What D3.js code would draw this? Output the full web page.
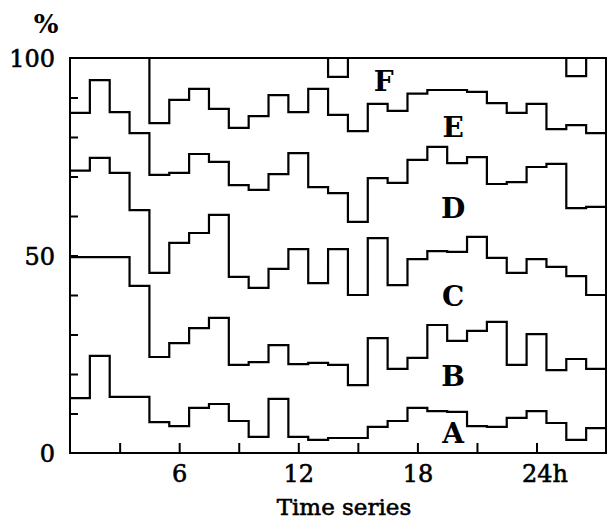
<!DOCTYPE html>
<html>
<head>
<meta charset="utf-8">
<script src="https://cdn.jsdelivr.net/npm/d3@7"></script>
<style>
  body { margin: 0; background: #fff; }
  text { font-family: "DejaVu Serif", "Liberation Serif", serif; fill: #000; }
</style>
</head>
<body>
<div id="chart"></div>
<script>
// hourly samples, boundaries of the stacked shares (cumulative %)
var hours = [1,2,3,4,5,6,7,8,9,10,11,12,13,14,15,16,17,18,19,20,21,22,23,24,25,26,27];

var topF = [100,100,100,100,100,100,100,100,100,100,100,100,100,95.2,100,100,100,100,100,100,100,100,100,100,100,95.4,100];
var lineEF = [100,100,100,100,83.5,89.4,92.2,87.1,82.3,85.3,90.6,86.3,92.2,85.6,81.5,88.4,86.6,91.0,91.9,91.9,91.4,88.6,86.1,88.4,82.0,83.0,81.0];
var lineDE = [86.1,94.4,86.3,81.0,70.4,70.9,75.7,73.7,67.8,66.6,70.6,75.9,67.3,65.8,58.5,69.6,68.4,74.2,77.5,73.4,74.9,68.1,68.6,72.4,73.2,62.0,62.3];
var lineCD = [71.5,74.7,70.9,61.5,45.6,53.2,55.7,60.3,44.6,41.8,46.6,51.6,43.0,51.6,40.0,54.4,42.5,49.1,51.1,50.9,54.7,49.4,45.6,49.1,47.1,44.8,40.0];
var lineBC = [49.6,49.6,49.6,42.3,24.3,27.8,31.6,34.2,22.3,23.0,27.3,22.5,22.8,22.3,17.2,29.1,21.3,24.1,32.4,28.4,30.9,33.2,22.3,30.1,21.0,23.8,21.3];
var lineAB = [13.9,24.6,14.2,14.2,7.8,6.8,11.4,12.4,8.1,4.1,13.7,4.1,3.3,3.8,3.8,6.6,8.1,11.4,10.6,10.4,6.8,6.6,8.9,10.6,7.6,3.3,6.3];

var bands = ["A","B","C","D","E","F"];
var xTickLabels = [6,12,18,24];
var yTickLabels = [0,50,100];

var margin = {top: 58, right: 2, bottom: 69, left: 70},
  width = 608 - margin.left - margin.right,
  height = 522 - margin.top - margin.bottom;

var svg = d3.select('#chart')
  .append('svg')
    .attr('width', 608)
    .attr('height', 522)
  .append('g')
    .attr('transform', 'translate(' + margin.left + ',' + margin.top + ')');

var x = d3.scaleLinear().domain([0.5, 27.5]).range([0, width]);
var y = d3.scaleLinear().domain([0, 100]).range([height, 0]);

var stepLine = d3.line()
  .x(function(d) { return x(d[0]); })
  .y(function(d) { return y(d[1]); })
  .curve(d3.curveStepAfter);

function pts(vals){
  var p = hours.map(function(h,i){ return [h - 0.5, vals[i]]; });
  p.push([hours[hours.length-1] + 0.5, vals[vals.length-1]]);
  return p;
}

//frame
svg.append('rect')
  .attr('x', 0).attr('y', 0)
  .attr('width', width).attr('height', height)
  .attr('fill', 'none')
  .attr('stroke', '#000')
  .attr('stroke-width', 2);

var series = [topF, lineEF, lineDE, lineCD, lineBC, lineAB];
svg.selectAll('.steps')
  .data(series).enter()
  .append('path')
    .attr('class', 'steps')
    .attr('d', function(d){ return stepLine(pts(d)); })
    .attr('fill', 'none')
    .attr('stroke', '#000')
    .attr('stroke-width', 2.2)
    .attr('stroke-linejoin', 'miter');

//inner minor ticks
var yMinor = svg.append('g')
  .call(d3.axisRight(y).tickValues(d3.range(10, 100, 10)).tickSize(8).tickFormat(''));
var xMinor = svg.append('g')
  .attr('transform', 'translate(0,' + height + ')')
  .call(d3.axisTop(x).tickValues(d3.range(3, 25, 3)).tickSize(10).tickFormat(''));
[yMinor, xMinor].forEach(function(g){
  g.select('.domain').remove();
  g.selectAll('line').attr('stroke', '#000').attr('stroke-width', 2);
});

//labels
var yAxis = svg.append('g')
  .call(d3.axisLeft(y).tickValues(yTickLabels).tickSize(0).tickPadding(15));
yAxis.select('.domain').remove();
yAxis.selectAll('text')
  .attr('font-size', 24)
  .attr('font-family', '"DejaVu Serif", serif')
  .attr('stroke', '#000').attr('stroke-width', 0.6)
  .attr('dy', '0.36em');

var xAxis = svg.append('g')
  .attr('transform', 'translate(0,' + height + ')')
  .call(d3.axisBottom(x).tickValues(xTickLabels).tickSize(0).tickPadding(12)
    .tickFormat(function(d){ return d == 24 ? '24h' : d; }));
xAxis.select('.domain').remove();
xAxis.selectAll('text')
  .attr('font-size', 24)
  .attr('font-family', '"DejaVu Serif", serif')
  .attr('stroke', '#000').attr('stroke-width', 0.6)
  .attr('dx', function(d){ return d == 24 ? 8 : 0; });

svg.append('text')
  .attr('x', -24)
  .attr('y', -25)
  .attr('font-size', 26)
  .attr('text-anchor', 'middle')
  .attr('font-weight', 'bold')
  .text('%');

svg.append('text')
  .attr('x', x(14.3))
  .attr('y', height + 62)
  .attr('font-size', 23)
  .attr('stroke', '#000').attr('stroke-width', 0.6)
  .attr('text-anchor', 'middle')
  .text('Time series');

//band letters, centred between boundaries
var bounds = [null, lineAB, lineBC, lineCD, lineDE, lineEF, topF];
var labelHour = [19.8, 19.8, 19.8, 19.8, 19.8, 16.3];
bands.forEach(function(b, i){
  var h = Math.round(labelHour[i]) - 1;
  var lo = i == 0 ? 0 : bounds[i][h];
  var hi = bounds[i+1][h];
  svg.append('text')
    .attr('x', x(labelHour[i]))
    .attr('y', y((lo + hi) / 2))
    .attr('dy', '0.36em')
    .attr('font-size', 28)
    .attr('font-weight', 'bold')
    .attr('text-anchor', 'middle')
    .text(b);
});
</script>
</body>
</html>
